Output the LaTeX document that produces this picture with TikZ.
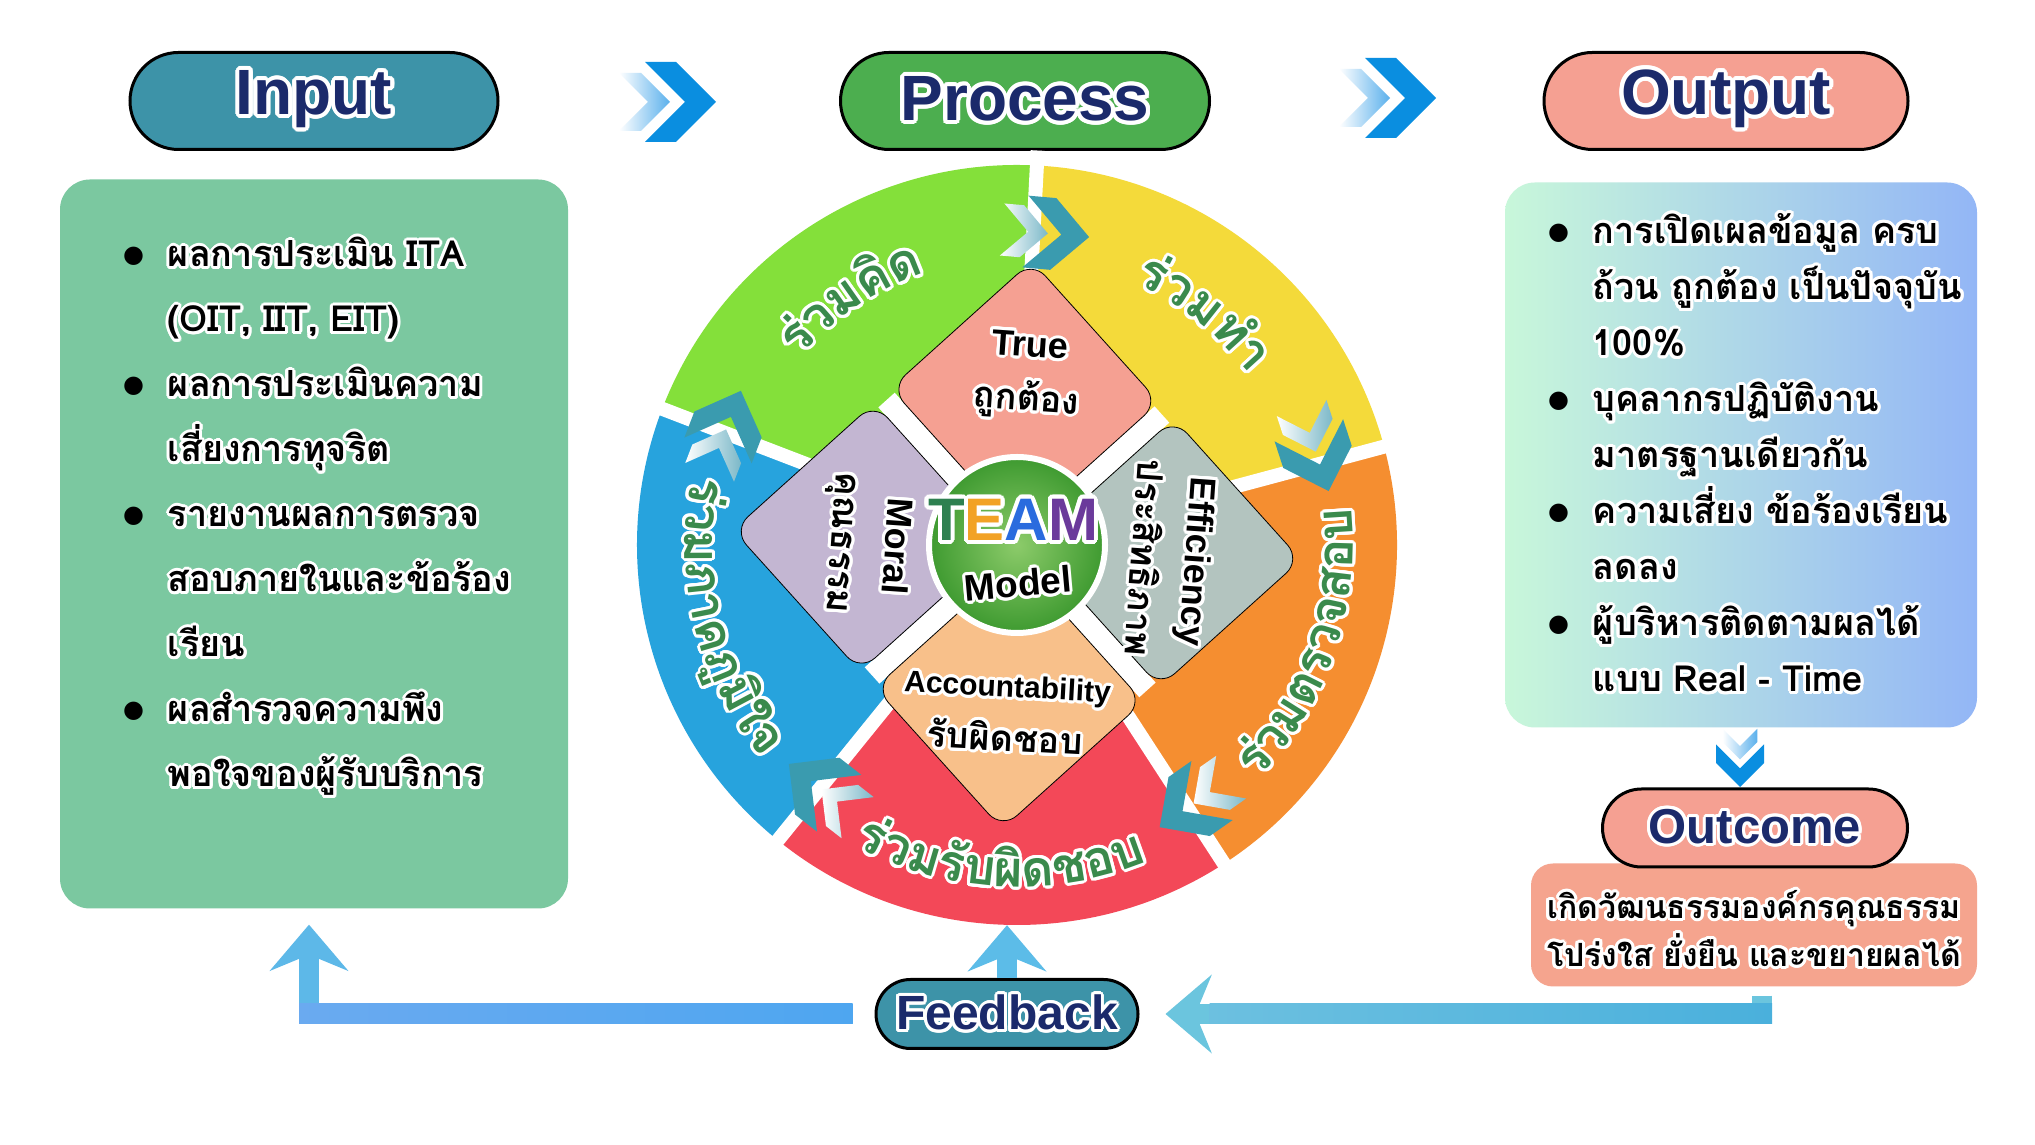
\documentclass[tikz,border=0pt]{standalone}
\usepackage{fontspec}
\usepackage{contour}
\usetikzlibrary{positioning,shapes.misc,arrows.meta}

\setmainfont{Liberation Sans}
\newfontfamily\thai[Script=Thai]{Loma}
\newfontfamily\symb{DejaVu Sans}

\definecolor{navy}{HTML}{1B2A6B}
\definecolor{inpill}{HTML}{3D93A8}
\definecolor{procpill}{HTML}{4CAE4F}
\definecolor{outpill}{HTML}{F5A092}
\definecolor{inbox}{HTML}{7BC8A0}
\definecolor{outboxL}{HTML}{C8F7DA}
\definecolor{outboxR}{HTML}{93B6F6}
\definecolor{outcomebox}{HTML}{F5A48E}
\definecolor{arrowblue}{HTML}{0A8EE0}
\definecolor{arrowlight}{HTML}{5AB0EC}
\definecolor{wheelteal}{HTML}{3A9BAF}
\definecolor{wheellight}{HTML}{7BB8C8}
\definecolor{seggreen}{HTML}{84E03A}
\definecolor{segyellow}{HTML}{F4DA3A}
\definecolor{segorange}{HTML}{F58E30}
\definecolor{segred}{HTML}{F34858}
\definecolor{segblue}{HTML}{27A3DD}
\definecolor{ringgreen}{HTML}{3A8A4C}
\definecolor{dpink}{HTML}{F5A092}
\definecolor{dgray}{HTML}{B3C4BF}
\definecolor{dpeach}{HTML}{F8C08A}
\definecolor{dlav}{HTML}{C3B6D2}
\definecolor{teamT}{HTML}{2E8050}
\definecolor{teamE}{HTML}{F2A225}
\definecolor{teamA}{HTML}{2A6BDE}
\definecolor{teamM}{HTML}{6B3A9B}
\definecolor{ballin}{HTML}{8CCB6A}
\definecolor{ballout}{HTML}{3E9A30}
\definecolor{fbleft}{HTML}{5DB8E8}
\definecolor{fbmid}{HTML}{5CBCE8}
\definecolor{fbright}{HTML}{6BC5DE}
\definecolor{barLa}{HTML}{6AAAF0}
\definecolor{barLb}{HTML}{7ECFF2}
\definecolor{barLc}{HTML}{4EA6F0}
\definecolor{barRa}{HTML}{6CC0E0}
\definecolor{barRb}{HTML}{80D5E2}
\definecolor{barRc}{HTML}{4AB0DC}

\contourlength{3pt}
\contournumber{20}

\newdimen\ringw
\newcommand\ringfont{\thai\bfseries\fontsize{50}{50}\selectfont}
\newcommand\wl[1]{\contour{white}{#1}}
\newcommand\bul{\raisebox{4pt}{\symb\fontsize{24}{24}\selectfont ●}}

% widths of the clusters, taken before the picture
\newcommand\ringmeasure[2]{%
  \global\ringw=0pt
  \foreach \cl [count=\n] in {#2}{%
    \setbox0=\hbox{\ringfont\cl}\global\advance\ringw by \wd0
    \expandafter\xdef\csname rw#1-\n\endcsname{\the\wd0}}%
  \expandafter\xdef\csname rw#1\endcsname{\the\ringw}%
}

% text set cluster by cluster round the wheel
\newcommand\ringtext[5]{%
  \pgfmathsetmacro\ringstart{#3+(#4)*deg(0.5*\csname rw#1\endcsname/#2)}%
  \xdef\ringang{\ringstart}%
  \foreach \cl [count=\n] in {#5}{%
    \pgfmathsetmacro\ringhalf{deg(0.5*\csname rw#1-\n\endcsname/#2)}%
    \pgfmathsetmacro\ringhere{\ringang-(#4)*\ringhalf}%
    \pgfmathsetmacro\ringrot{\ringhere-(#4)*90}%
    \node[ringlbl, rotate=\ringrot] (#1-\n) at ([shift={(\ringhere:#2)}]wheel.center) {\wl{\cl}};
    \pgfmathsetmacro\ringnext{\ringang-2*(#4)*\ringhalf}%
    \xdef\ringang{\ringnext}%
  }%
}

\newcommand\chevpair[2]{%
  \shade[left color=white, right color=#1] (-47,29) -- (-25,29) -- (4,0) -- (-25,-29) -- (-47,-29) -- (-18,0) -- cycle;
  \fill[#2] (-21,40) -- (10,40) -- (50,0) -- (10,-40) -- (-21,-40) -- (19,0) -- cycle;
}

\begin{document}
\ringmeasure{think}{ร่,ว,ม,คิ,ด}%
\ringmeasure{act}{ร่,ว,ม,ทำ}%
\ringmeasure{check}{ร่,ว,ม,ต,ร,ว,จ,ส,อ,บ}%
\ringmeasure{resp}{ร่,ว,ม,รั,บ,ผิ,ด,ช,อ,บ}%
\ringmeasure{pride}{ร่,ว,ม,ภ,า,ค,ภู,มิ,ใ,จ}%
\begin{tikzpicture}[x=1pt, y=1pt,
  pill/.style={rounded rectangle, draw=black, line width=3, minimum height=97, inner sep=0, text=navy, font=\bfseries\fontsize{64}{64}\selectfont},
  box/.style={rounded corners=30, inner sep=0},
  items/.style={anchor=north west, inner sep=0},
  diam/.style={draw=black, line width=0.8, rounded corners=20, minimum size=190, rotate=42, inner sep=0},
  dlbl/.style={align=center, inner sep=0, font=\bfseries\fontsize{36}{54}\selectfont},
  ringlbl/.style={anchor=base, inner sep=0, text=ringgreen, font=\ringfont},
  fb/.style={line width=20, -{Stealth[length=46pt, width=78pt, inset=16pt]}},
  bluechev/.pic={\chevpair{arrowlight}{arrowblue}},
  tealchev/.pic={\chevpair{wheellight}{wheelteal}}]

\fill[white] (0,0) rectangle (2035,1145);
\useasboundingbox (0,0) rectangle (2035,1145);

% headers
\node[pill, minimum width=368, fill=inpill] (input) at (314,1044) {\contourlength{4pt}\wl{Input}};
\node[pill, minimum width=369, fill=procpill] (process) at (1025,1044) {\contourlength{4pt}\wl{Process}};
\node[pill, minimum width=364, fill=outpill] (output) at (1726,1044) {\contourlength{4pt}\wl{Output}};
\pic at (666,1043) {bluechev};
\pic at (1386,1047) {bluechev};

% input side
\node[box, fill=inbox, minimum width=508, minimum height=729] (inbox) at (314,601) {};
\node[items, font=\thai\bfseries\fontsize{36}{65}\selectfont] (initems) at ([shift={(63,-42)}]inbox.north west) {%
  \begin{tabular}{@{}c@{\hspace{24pt}}l@{}}
  \bul & \wl{ผลการประเมิน ITA}\\
       & \wl{(OIT, IIT, EIT)}\\
  \bul & \wl{ผลการประเมินความ}\\
       & \wl{เสี่ยงการทุจริต}\\
  \bul & \wl{รายงานผลการตรวจ}\\
       & \wl{สอบภายในและข้อร้อง}\\
       & \wl{เรียน}\\
  \bul & \wl{ผลสำรวจความพึง}\\
       & \wl{พอใจของผู้รับบริการ}
  \end{tabular}};

% output side
\node[box, left color=outboxL, right color=outboxR, minimum width=472, minimum height=545] (outbox) at (1741,690) {};
\node[items, font=\thai\bfseries\fontsize{36}{56}\selectfont] (outitems) at ([shift={(43,-22)}]outbox.north west) {%
  \begin{tabular}{@{}c@{\hspace{24pt}}l@{}}
  \bul & \wl{การเปิดเผลข้อมูล ครบ}\\
       & \wl{ถ้วน ถูกต้อง เป็นปัจจุบัน}\\
       & \wl{100\%}\\
  \bul & \wl{บุคลากรปฏิบัติงาน}\\
       & \wl{มาตรฐานเดียวกัน}\\
  \bul & \wl{ความเสี่ยง ข้อร้องเรียน}\\
       & \wl{ลดลง}\\
  \bul & \wl{ผู้บริหารติดตามผลได้}\\
       & \wl{แบบ Real - Time}
  \end{tabular}};
\pic[rotate=-90, scale=0.6] at (1740,388) {bluechev};

\node[box, rounded corners=22, fill=outcomebox, minimum width=446, minimum height=123] (outcomebox) at (1754,220) {};
\node[pill, minimum width=305, minimum height=78, fill=outpill, font=\bfseries\fontsize{49}{49}\selectfont] (outcome) at (1755,317) {\wl{Outcome}};
\node[align=center, inner sep=0, font=\thai\bfseries\fontsize{32}{48}\selectfont] (outcometext) at ([yshift=-5]outcomebox.center) {\wl{เกิดวัฒนธรรมองค์กรคุณธรรม}\\\wl{โปร่งใส ยั่งยืน และขยายผลได้}};

% the wheel
\node[circle, minimum size=760, inner sep=0] (wheel) at (1017,600) {};
\foreach \a/\b/\c in {15/87/segyellow, 87/159/seggreen, 159/231/segblue, 231/303/segred, 303/375/segorange}
  \fill[\c] (wheel.center) -- ++(\a:380) arc[start angle=\a, end angle=\b, radius=380] -- cycle;
\foreach \a in {15,87,159,231,303}
  \draw[white, line width=14] (wheel.center) -- ++(\a:395);
\foreach \a in {85,18,-55,232,159}
  \pic[rotate=\a-90, scale=0.9] at ([shift={(\a:313)}]wheel.center) {tealchev};

\ringtext{think}{287}{124}{1}{ร่,ว,ม,คิ,ด}
\ringtext{act}{287}{51}{1}{ร่,ว,ม,ทำ}
\ringtext{check}{336}{-19}{-1}{ร่,ว,ม,ต,ร,ว,จ,ส,อ,บ}
\ringtext{resp}{342}{267}{-1}{ร่,ว,ม,รั,บ,ผิ,ด,ช,อ,บ}
\ringtext{pride}{332}{194}{-1}{ร่,ว,ม,ภ,า,ค,ภู,มิ,ใ,จ}

\foreach \a in {42,132,222,312}
  \draw[white, line width=22] (wheel.center) -- ++(\a:195);
\node[diam, fill=dpink] (dtrue) at ([shift={(87:150)}]wheel.center) {};
\node[diam, fill=dgray] (deff) at ([shift={(-3:150)}]wheel.center) {};
\node[diam, fill=dpeach] (dacc) at ([shift={(267:150)}]wheel.center) {};
\node[diam, fill=dlav] (dmoral) at ([shift={(177:150)}]wheel.center) {};

\node[dlbl, rotate=-4] (truetxt) at ([shift={(3,18)}]dtrue.center) {\wl{True}\\{\thai\wl{ถูกต้อง}}};
\node[dlbl, rotate=-94] (efftxt) at ([shift={(3,-7)}]deff.center) {\wl{Efficiency}\\{\thai\wl{ประสิทธิภาพ}}};
\node[dlbl, rotate=-3] (acctxt) at ([shift={(-3,-20)}]dacc.center) {{\fontsize{30}{30}\selectfont\wl{Accountability}}\\{\thai\wl{รับผิดชอบ}}};
\node[dlbl, rotate=-94] (moraltxt) at ([shift={(-2,-7)}]dmoral.center) {\wl{Moral}\\{\thai\wl{คุณธรรม}}};

\node[circle, minimum size=176, draw=white, line width=6, inner color=ballin, outer color=ballout] (team) at (wheel.center) {};
\node[inner sep=0, font=\bfseries\fontsize{60}{60}\selectfont] (teamtxt) at ([shift={(-4,23)}]team.center) {\contourlength{4pt}{\color{teamT}\wl{T}}{\color{teamE}\wl{E}}{\color{teamA}\wl{A}}{\color{teamM}\wl{M}}};
\node[inner sep=0, rotate=5, font=\bfseries\fontsize{37}{37}\selectfont] (modeltxt) at ([shift={(1,-40)}]team.center) {\wl{Model}};

% feedback loop
\node[pill, minimum width=262, minimum height=69, fill=inpill, font=\bfseries\fontsize{48}{48}\selectfont] (feedback) at (1007,131) {\wl{Feedback}};
\coordinate (intip) at ([xshift=-5, yshift=-16]inbox.south);
\coordinate (outstub) at ([xshift=8, yshift=-9]outcomebox.south);
\draw[fb, fbleft] ([xshift=-22]feedback.west) -| (intip);
\shade[left color=barLa, middle color=barLb, right color=barLc] ([xshift=-10, yshift=-10]intip |- feedback.west) rectangle ([xshift=-22, yshift=10]feedback.west);
\draw[fb, fbmid] (feedback.north) -- (feedback.north |- wheel.south);
\draw[fb, fbright] (outstub) |- ([xshift=26]feedback.east);
\shade[left color=barRa, middle color=barRb, right color=barRc] ([xshift=70, yshift=-10]feedback.east) rectangle ([xshift=10, yshift=10]outstub |- feedback.east);
\end{tikzpicture}
\end{document}
